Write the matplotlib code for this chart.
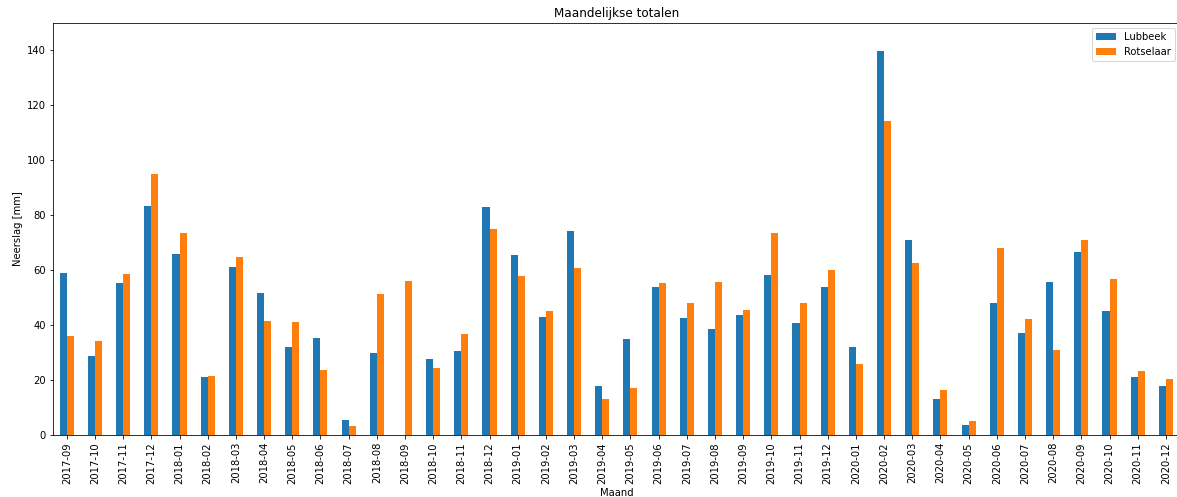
#Neerslag per maand - Lubbeek en Rotselaar

import numpy as np
from matplotlib import pyplot as plt

maanden = ['2017-09', '2017-10', '2017-11', '2017-12',
           '2018-01', '2018-02', '2018-03', '2018-04', '2018-05', '2018-06',
           '2018-07', '2018-08', '2018-09', '2018-10', '2018-11', '2018-12',
           '2019-01', '2019-02', '2019-03', '2019-04', '2019-05', '2019-06',
           '2019-07', '2019-08', '2019-09', '2019-10', '2019-11', '2019-12',
           '2020-01', '2020-02', '2020-03', '2020-04', '2020-05', '2020-06',
           '2020-07', '2020-08', '2020-09', '2020-10', '2020-11', '2020-12']

# totalen in mm (2018-09 ontbreekt voor Lubbeek)
lubbeek = [58.8, 28.7, 55.2, 83.4,
           65.8, 21.0, 61.1, 51.5, 32.0, 35.3,
           5.4, 29.7, np.nan, 27.6, 30.5, 83.0,
           65.5, 43.0, 74.2, 17.8, 34.9, 53.7,
           42.7, 38.7, 43.8, 58.2, 40.8, 53.7,
           32.0, 139.7, 71.0, 13.2, 3.6, 48.2,
           37.1, 55.5, 66.5, 45.2, 21.1, 17.8]

rotselaar = [36.0, 34.2, 58.5, 94.9,
             73.6, 21.3, 64.7, 41.6, 41.2, 23.6,
             3.3, 51.2, 55.9, 24.4, 36.7, 75.0,
             57.8, 45.0, 60.7, 13.2, 17.0, 55.3,
             47.9, 55.5, 45.3, 73.5, 48.2, 60.0,
             25.7, 114.1, 62.5, 16.5, 5.1, 68.0,
             42.3, 30.9, 71.0, 56.6, 23.2, 20.2]

fig = plt.figure(figsize=(1177/72, 497/72), dpi=72)
ax = fig.add_axes([52.7/1177, 62/497, 1127.3/1177, 412.3/497])

x = np.arange(len(maanden))
breedte = 0.25
ax.bar(x - breedte/2, np.nan_to_num(lubbeek), breedte, color='#1f77b4', label='Lubbeek')
ax.bar(x + breedte/2, rotselaar, breedte, color='#ff7f0e', label='Rotselaar')

ax.set_xticks(x)
ax.set_xticklabels(maanden, rotation=90)
ax.set_xlim(-0.5, len(maanden) - 0.5)
ax.set_ylim(0, 150)

ax.set_title('Maandelijkse totalen')
ax.set_xlabel('Maand')
ax.set_ylabel('Neerslag [mm]')
ax.legend(loc='upper right')

fig.savefig('out.png', dpi=72)
